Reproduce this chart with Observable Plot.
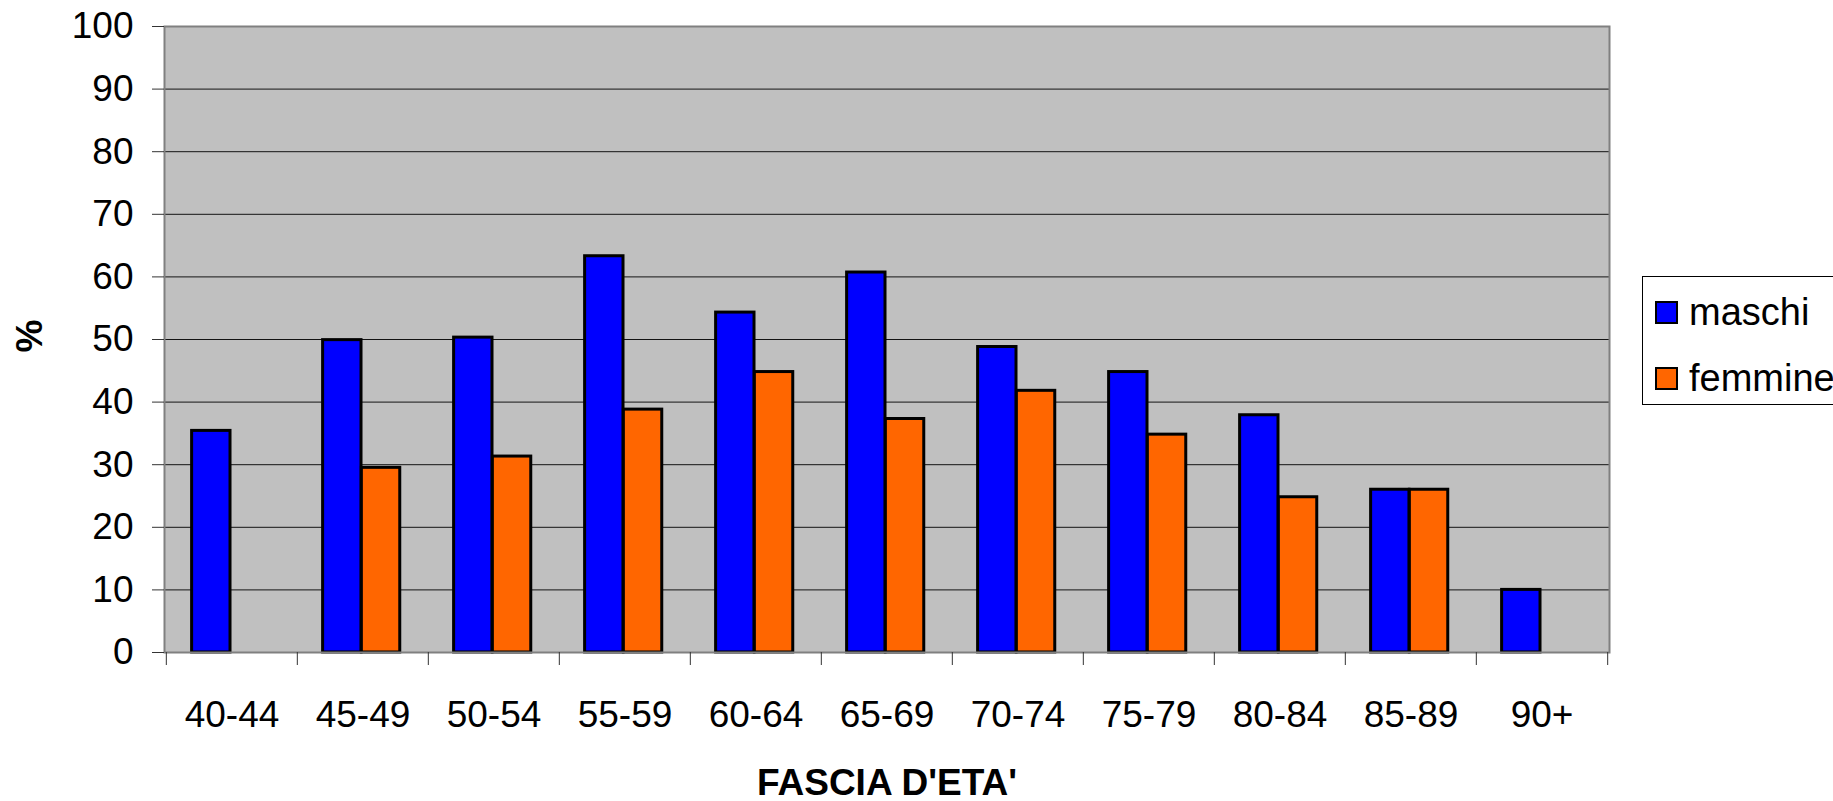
<!DOCTYPE html>
<html>
<head>
<meta charset="utf-8">
<script src="https://cdn.jsdelivr.net/npm/d3@7"></script>
<script src="https://cdn.jsdelivr.net/npm/@observablehq/plot@0.6"></script>
<style>
  html, body { margin: 0; padding: 0; background: #fff; overflow: hidden; }
  #wrap { position: relative; width: 1833px; height: 801px; font-family: "Liberation Sans", Arial, sans-serif; }
  #legend { position: absolute; left: 1642px; top: 276px; width: 220px; height: 129px; border: 1px solid #000; background: #fff; box-sizing: border-box; }
  .item { position: absolute; left: 12px; display: flex; align-items: center; height: 40px; font-size: 38px; color: #000; white-space: nowrap; }
  .sw { width: 19px; height: 19px; border: 2px solid #000; margin-right: 11px; }
</style>
</head>
<body>
<div id="wrap"></div>
<script>
const categories = ["40-44","45-49","50-54","55-59","60-64","65-69","70-74","75-79","80-84","85-89","90+"];
const maschi = [35.4, 49.9, 50.3, 63.3, 54.3, 60.7, 48.8, 44.8, 37.9, 26.0, 10.0];
const femmine = [null, 29.5, 31.3, 38.8, 44.8, 37.3, 41.8, 34.8, 24.8, 26.0, null];
const yTicks = [0,10,20,30,40,50,60,70,80,90,100];
const seriesNames = ["maschi", "femmine"];
const seriesColors = ["#0000ff", "#ff6600"];

const W = 1833, H = 801, mL = 164, mR = 224, mT = 26, mB = 149;
const bw = (W - mL - mR) / categories.length;

const dataM = categories.map((c, i) => ({cat: c, v: maschi[i]})).filter(d => d.v != null);
const dataF = categories.map((c, i) => ({cat: c, v: femmine[i]})).filter(d => d.v != null);

const font = '"Liberation Sans", Arial, sans-serif';

const chart = Plot.plot({
  width: W, height: H,
  marginLeft: mL, marginRight: mR, marginTop: mT, marginBottom: mB,
  style: {fontFamily: font, fontSize: "37px", color: "#000", background: "#fff"},
  x: {domain: categories, padding: 0, label: null},
  y: {domain: [0, 100], label: null},
  marks: [
    Plot.frame({fill: "#c0c0c0", stroke: null}),
    Plot.ruleY(yTicks.filter(t => t > 0 && t < 100), {stroke: "#000", strokeWidth: 1, strokeOpacity: 0.9}),
    Plot.barY(dataM, {x: "cat", y: "v", fill: seriesColors[0], stroke: "#000", strokeWidth: 3, insetLeft: bw * 0.195, insetRight: bw * 0.51}),
    Plot.barY(dataF, {x: "cat", y: "v", fill: seriesColors[1], stroke: "#000", strokeWidth: 3, insetLeft: bw * 0.49, insetRight: bw * 0.215}),
    Plot.frame({stroke: "#808080", strokeWidth: 2}),
    Plot.axisY({ticks: yTicks, tickSize: 12, tickPadding: 19, stroke: "#333", fontSize: 37, label: null}),
    Plot.axisX({tickSize: 0, tickPadding: 48, fontSize: 37, label: null}),
    Plot.axisX({tickSize: 13, text: null, dx: -bw / 2, stroke: "#333", label: null}),
    Plot.axisX({ticks: [categories[categories.length - 1]], tickSize: 13, text: null, dx: bw / 2, stroke: "#333", label: null}),
    Plot.text(["FASCIA D'ETA'"], {frameAnchor: "bottom", dy: 142, fontSize: 37, fontWeight: "bold", textAnchor: "middle", lineAnchor: "bottom"}),
    Plot.text(["%"], {frameAnchor: "left", dx: -134, dy: 13, fontSize: 37, fontWeight: "bold", rotate: -90})
  ]
});

const wrap = document.getElementById("wrap");
wrap.appendChild(chart);

const legend = document.createElement("div");
legend.id = "legend";
seriesNames.forEach((name, i) => {
  const item = document.createElement("div");
  item.className = "item";
  item.style.top = (i === 0 ? 15 : 81) + "px";
  const sw = document.createElement("div");
  sw.className = "sw";
  sw.style.background = seriesColors[i];
  const t = document.createElement("span");
  t.textContent = name;
  item.appendChild(sw);
  item.appendChild(t);
  legend.appendChild(item);
});
wrap.appendChild(legend);
</script>
</body>
</html>
